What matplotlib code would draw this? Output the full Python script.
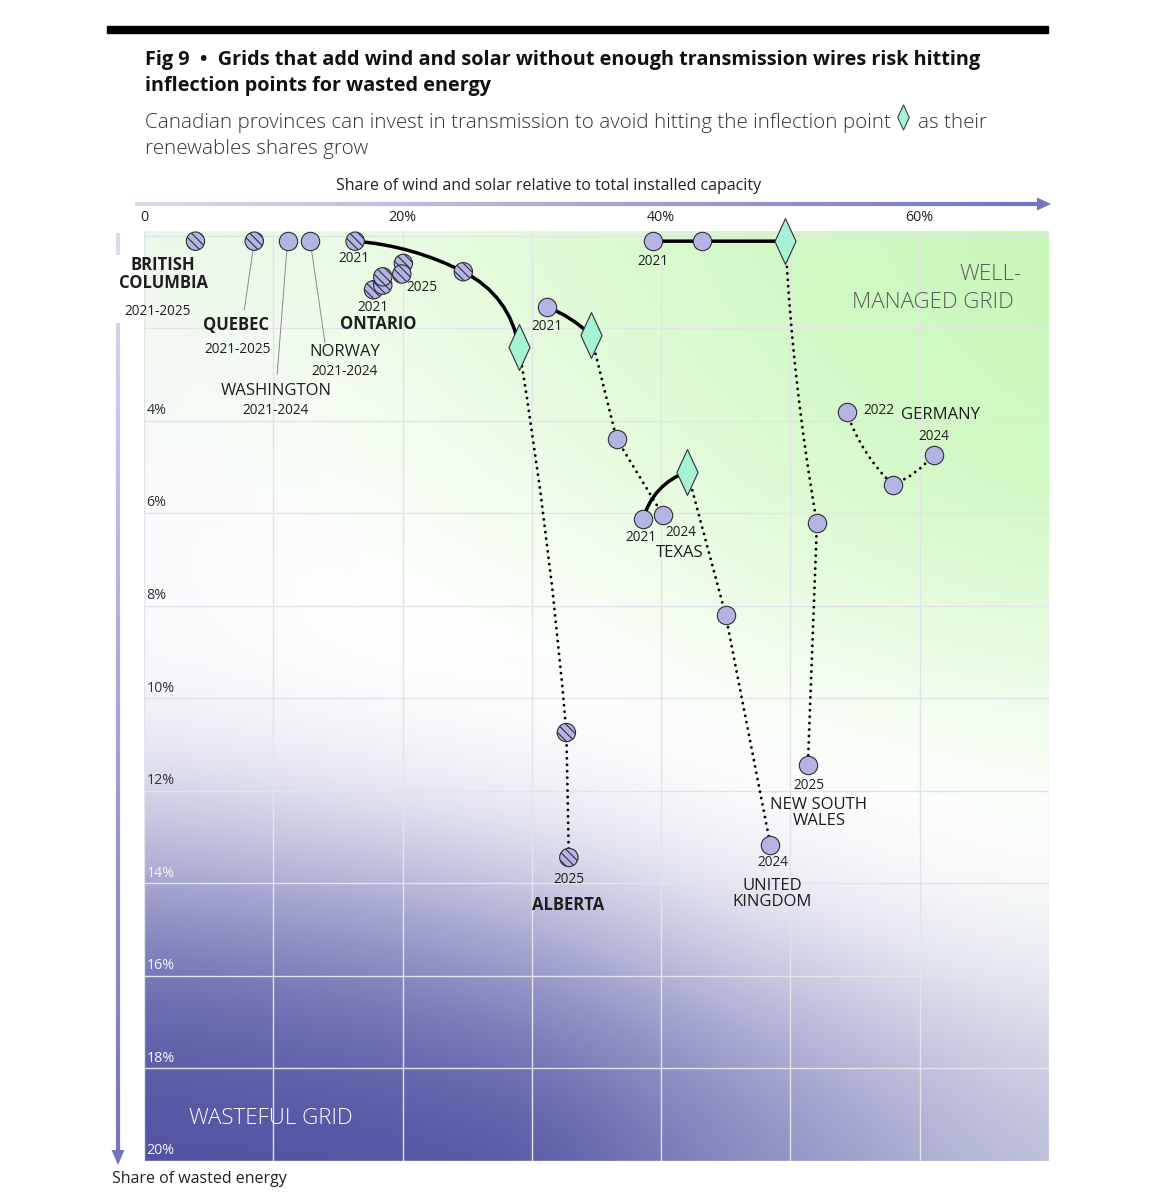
import numpy as np
import matplotlib
matplotlib.use('Agg')
import matplotlib.pyplot as plt
from matplotlib.patches import FancyArrowPatch, Rectangle, Polygon
from matplotlib.path import Path
from matplotlib.collections import LineCollection

FONT = 'Open Sans'
plt.rcParams['font.family'] = [FONT, 'DejaVu Sans']
plt.rcParams['hatch.linewidth'] = 0.8

# ---------------- data ----------------
single_names = ['British Columbia', 'Quebec', 'Washington', 'Norway']
single_x = [3.98, 8.53, 11.1, 12.86]
single_y = [0.12, 0.12, 0.12, 0.12]
single_hatched = [True, True, False, False]

ontario_years = [2021, 2022, 2023, 2024, 2025]
ontario_x = [17.75, 18.47, 18.47, 20.06, 19.94]
ontario_y = [1.17, 1.07, 0.89, 0.60, 0.83]

alberta_years = [2021, 2022, 2023, 2024, 2025]
alberta_x = [16.33, 24.7, 29.0, 32.67, 32.86]
alberta_y = [0.12, 0.78, 2.41, 10.74, 13.44]
alberta_infl = 2

texas_years = [2021, 2022, 2023, 2024]
texas_x = [31.16, 34.57, 36.55, 40.13]
texas_y = [1.54, 2.15, 4.39, 6.04]
texas_infl = 1

uk_years = [2021, 2022, 2023, 2024]
uk_x = [38.59, 42.02, 44.98, 48.45]
uk_y = [6.13, 5.10, 8.19, 13.17]
uk_infl = 1

nsw_years = [2021, 2022, 2023, 2024, 2025]
nsw_x = [39.37, 43.19, 49.61, 52.05, 51.35]
nsw_y = [0.12, 0.12, 0.12, 6.22, 11.44]
nsw_infl = 2

germany_years = [2022, 2023, 2024]
germany_x = [54.35, 57.93, 61.07]
germany_y = [3.81, 5.39, 4.74]

xtick_vals = [0, 10, 20, 30, 40, 50, 60, 70]
xtick_labels = ['0', '', '20%', '', '40%', '', '60%', '']
ytick_vals = [0, 2, 4, 6, 8, 10, 12, 14, 16, 18, 20]
ylabel_vals = [4, 6, 8, 10, 12, 14, 16, 18, 20]

# ---------------- styles ----------------
CIRCLE_FC = '#b4b4e2'
EDGE = '#2e2e3a'
MINT = '#a6f3d3'
W, H = 1155, 1200
DPI = 100

fig = plt.figure(figsize=(W / DPI, H / DPI), dpi=DPI)
fig.patch.set_facecolor('white')

L, R, T, B = 144, 1049, 231, 1161
ax = fig.add_axes([L / W, 1 - B / H, (R - L) / W, (B - T) / H])
ax.set_xlim(0, 70)
ax.set_ylim(20, -0.1)

# ---- background gradient (style texture: green wash top-right, purple wash bottom-left)
N = 400
gx = np.linspace(0, 1, N)
gy = np.linspace(0, 1, N)

def table_field(tx, ty, tab):
    tab = np.asarray(tab, float)
    rows = np.array([np.interp(gx, tx, r) for r in tab])
    return np.array([np.interp(gy, ty, rows[:, j]) for j in range(N)]).T

def blur(a, sig):
    r = int(3 * sig)
    k = np.exp(-0.5 * (np.arange(-r, r + 1) / sig) ** 2)
    k /= k.sum()
    ap = np.pad(a, r, mode='edge')
    ap = np.apply_along_axis(lambda m: np.convolve(m, k, mode='valid'), 0, ap)
    ap = np.apply_along_axis(lambda m: np.convolve(m, k, mode='valid'), 1, ap)
    return np.clip(ap, 0, 1)

green_tx = [0, 0.25, 0.5, 0.75, 1.0]
green_ty = [0, 0.1, 0.2, 0.3, 0.4, 0.5, 0.6]
green_tab = [[0.28, 0.40, 0.62, 0.85, 1.00],
             [0.15, 0.30, 0.55, 0.80, 0.95],
             [0.05, 0.18, 0.45, 0.72, 0.90],
             [0.00, 0.08, 0.30, 0.60, 0.80],
             [0.00, 0.00, 0.12, 0.40, 0.55],
             [0.00, 0.00, 0.00, 0.15, 0.30],
             [0.00, 0.00, 0.00, 0.00, 0.06]]
purple_tx = [0, 0.25, 0.43, 0.64, 0.86, 1.0]
purple_ty = [0.5, 0.6, 0.7, 0.8, 0.9, 1.0]
purple_tab = [[0.03, 0.00, 0.00, 0.00, 0.00, 0.00],
              [0.23, 0.12, 0.05, 0.00, 0.00, 0.00],
              [0.51, 0.42, 0.31, 0.11, 0.02, 0.00],
              [0.83, 0.73, 0.60, 0.37, 0.17, 0.11],
              [0.94, 0.90, 0.83, 0.60, 0.37, 0.26],
              [1.00, 1.00, 0.97, 0.71, 0.49, 0.37]]
a_g = blur(table_field(green_tx, green_ty, green_tab), 22)
a_p = blur(table_field(purple_tx, purple_ty, purple_tab), 22)
G = np.array([198, 247, 182]) / 255
P = np.array([80, 82, 162]) / 255
img = np.ones((N, N, 3))
img = img * (1 - a_g[..., None]) + G * a_g[..., None]
img = img * (1 - a_p[..., None]) + P * a_p[..., None]
ax.imshow(img, extent=(0, 70, 20, -0.1), aspect='auto', zorder=0,
          interpolation='bilinear')

ax.set_axisbelow(True)
ax.set_xticks(xtick_vals)
ax.set_xticklabels(xtick_labels)
ax.set_yticks(ytick_vals)
ax.set_yticklabels([])
ax.xaxis.tick_top()
ax.tick_params(axis='both', length=0)
ax.tick_params(axis='x', pad=4, labelsize=10.3, labelcolor='#222222')
ax.grid(True, color='#e3e3ea', lw=1.0)
for s in ax.spines.values():
    s.set_visible(False)

for v in ylabel_vals:
    col = '#333333' if v <= 12 else '#f4f4fa'
    ax.text(0.2, v - 0.06, f'{v}%', fontsize=10.3, color=col, ha='left',
            va='bottom', zorder=6)

# ---------------- connectors ----------------
def seg(p0, p1, rad, dotted):
    a = FancyArrowPatch(p0, p1, arrowstyle='-',
                        connectionstyle=f'arc3,rad={rad}',
                        shrinkA=0, shrinkB=0, color='black',
                        lw=(2.1 if dotted else 2.5), zorder=3)
    if dotted:
        a.set_linestyle((0, (0.01, 2.2)))
        a.set_capstyle('round')
    ax.add_patch(a)

def connect(xs, ys, rads, infl):
    for i in range(len(xs) - 1):
        seg((xs[i], ys[i]), (xs[i + 1], ys[i + 1]), rads[i], dotted=(i >= infl))

connect(alberta_x, alberta_y, [-0.1, -0.25, -0.02, 0.0], alberta_infl)
connect(texas_x, texas_y, [-0.1, 0.0, 0.0], texas_infl)
connect(uk_x, uk_y, [-0.25, 0.0, 0.0], uk_infl)
connect(nsw_x, nsw_y, [0.0, 0.0, 0.03, 0.0], nsw_infl)
connect(germany_x, germany_y, [0.12, 0.12], 0)

# ---------------- markers ----------------
diamond = Path([(0, 1), (0.46, 0), (0, -1), (-0.46, 0), (0, 1)],
               [Path.MOVETO, Path.LINETO, Path.LINETO, Path.LINETO, Path.CLOSEPOLY])
S = 175

def circles(xs, ys, hatched):
    ax.scatter(xs, ys, s=S, facecolor=CIRCLE_FC, edgecolor=EDGE, linewidth=0.8,
               hatch=(r'\\\\' if hatched else None), zorder=5, clip_on=False)

def series(xs, ys, infl, hatched):
    ix = [i for i in range(len(xs)) if i != infl]
    circles([xs[i] for i in ix], [ys[i] for i in ix], hatched)
    if infl is not None:
        ax.plot([xs[infl]], [ys[infl]], marker=diamond, ms=33, mfc=MINT,
                mec=EDGE, mew=0.8, ls='none', zorder=5, clip_on=False)

for x, y, h in zip(single_x, single_y, single_hatched):
    circles([x], [y], h)
for i in range(len(ontario_x)):
    circles([ontario_x[i]], [ontario_y[i]], True)
series(alberta_x, alberta_y, alberta_infl, True)
series(texas_x, texas_y, texas_infl, False)
series(uk_x, uk_y, uk_infl, False)
series(nsw_x, nsw_y, nsw_infl, False)
series(germany_x, germany_y, None, False)

# leader lines
def leader(p, end):
    ax.annotate('', xy=p, xytext=end,
                arrowprops=dict(arrowstyle='-', color='#8a8a8a', lw=0.7,
                                shrinkA=0, shrinkB=5.5), zorder=4)
leader((single_x[1], single_y[1]), (7.76, 1.6))
leader((single_x[2], single_y[2]), (10.3, 3.0))
leader((single_x[3], single_y[3]), (14.0, 2.32))

# ---------------- labels ----------------
def lab(x, y, s, size=9.8, weight='normal', color='#1e1e1e', ha='center'):
    ax.text(x, y, s, fontsize=size, fontweight=weight, color=color, ha=ha,
            va='center', zorder=7, linespacing=1.0)

NAME = 12
lab(1.47, 0.83, 'BRITISH\nCOLUMBIA', NAME, 'bold')
lab(1.08, 1.63, '2021-2025')
lab(7.12, 1.93, 'QUEBEC', NAME, 'bold')
lab(7.27, 2.47, '2021-2025')
lab(10.21, 3.36, 'WASHINGTON', NAME)
lab(10.21, 3.77, '2021-2024')
lab(15.55, 2.52, 'NORWAY', NAME)
lab(15.55, 2.93, '2021-2024')
lab(16.24, 0.49, '2021')
lab(17.71, 1.55, '2021')
lab(18.1, 1.91, 'ONTARIO', NAME, 'bold')
lab(21.5, 1.13, '2025')
lab(31.17, 1.96, '2021')
lab(39.37, 0.55, '2021')
lab(38.44, 6.52, '2021')
lab(41.53, 6.41, '2024')
lab(41.45, 6.86, 'TEXAS', NAME)
lab(51.44, 11.88, '2025')
lab(52.2, 12.48, 'NEW SOUTH\nWALES', NAME)
lab(48.65, 13.54, '2024')
lab(48.57, 14.23, 'UNITED\nKINGDOM', NAME)
lab(32.87, 13.91, '2025')
lab(32.79, 14.47, 'ALBERTA', NAME, 'bold')
lab(56.84, 3.77, '2022')
lab(61.64, 3.88, 'GERMANY', NAME)
lab(61.1, 4.35, '2024')

# ---------------- overlay (figure pixels) ----------------
ov = fig.add_axes([0, 0, 1, 1], zorder=3)
ov.set_xlim(0, W)
ov.set_ylim(H, 0)
ov.axis('off')
ov.patch.set_alpha(0)

ov.add_patch(Rectangle((107, 26), 941, 7, color='black'))

renderer = fig.canvas.get_renderer()
def fit(t, target):
    w = t.get_window_extent(renderer).width
    t.set_fontsize(t.get_fontsize() * target / w)

t1 = ov.text(145, 60, 'Fig 9  \u2022  Grids that add wind and solar without enough transmission wires risk hitting',
             fontsize=14, fontweight='bold', color='#111111', va='center', ha='left')
fit(t1, 841)
t2 = ov.text(145, 86, 'inflection points for wasted energy', fontsize=t1.get_fontsize(),
             fontweight='bold', color='#111111', va='center', ha='left')
s1 = ov.text(145, 123, 'Canadian provinces can invest in transmission to avoid hitting the inflection point',
             fontsize=13, fontweight='light', color='#333333', va='center', ha='left')
fit(s1, 738)
end_x = s1.get_window_extent(renderer).x1
ov.plot([end_x + 12], [117], marker=diamond, ms=18, mfc=MINT, mec=EDGE, mew=0.7, ls='none')
ov.text(end_x + 27, 123, 'as their', fontsize=s1.get_fontsize(), fontweight='light',
        color='#333333', va='center', ha='left')
ov.text(145, 149, 'renewables shares grow', fontsize=s1.get_fontsize(), fontweight='light',
        color='#333333', va='center', ha='left')

xt = ov.text(549, 186, 'Share of wind and solar relative to total installed capacity',
             fontsize=11, color='#222222', va='center', ha='center')
fit(xt, 427)
yt = ov.text(112, 1179, 'Share of wasted energy', fontsize=xt.get_fontsize(),
             color='#222222', va='center', ha='left')

ov.text(1022, 275, 'WELL-', fontsize=16, fontweight='light', color='#5a5a5a',
        ha='right', va='center')
ov.text(1014, 302, 'MANAGED GRID', fontsize=16, fontweight='light', color='#5a5a5a',
        ha='right', va='center')
ov.text(189, 1119, 'WASTEFUL GRID', fontsize=16, fontweight='light', color='white',
        ha='left', va='center')

# gradient arrows
c0 = np.array([0.86, 0.86, 0.94])
c1 = np.array([0.45, 0.45, 0.75])
def grad_line(p0, p1, f0, f1, n=120):
    ts = np.linspace(0, 1, n + 1)
    pts = np.array([np.array(p0) + (np.array(p1) - np.array(p0)) * t for t in ts])
    segs = [[pts[i], pts[i + 1]] for i in range(n)]
    fr = f0 + (f1 - f0) * (ts[:-1] + ts[1:]) / 2
    cols = [c0 + (c1 - c0) * f for f in fr]
    ov.add_collection(LineCollection(segs, colors=cols, linewidths=3.0, capstyle='butt'))

grad_line((135, 204), (1040, 204), 0, 1)
ov.add_patch(Polygon([(1037, 197.5), (1051, 204), (1037, 210.5)], closed=True, color=c1, lw=0))
ytot = 1152 - 233
grad_line((118, 233), (118, 255), 0, (255 - 233) / ytot)
grad_line((118, 323), (118, 1152), (323 - 233) / ytot, 1)
ov.add_patch(Polygon([(111.5, 1150), (118, 1165), (124.5, 1150)], closed=True, color=c1, lw=0))

fig.savefig('out.png', dpi=DPI)
